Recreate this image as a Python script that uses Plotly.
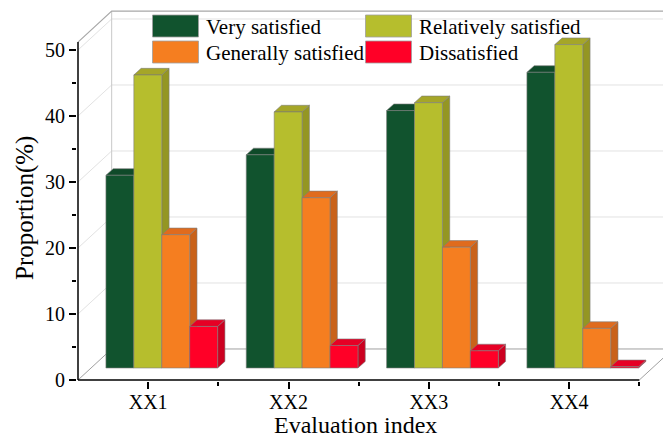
import plotly.graph_objects as go

# ---------------- data ----------------
categories = ["XX1", "XX2", "XX3", "XX4"]
series_names = ["Very satisfied", "Relatively satisfied", "Generally satisfied", "Dissatisfied"]
very_satisfied = [29.2, 32.3, 39.0, 44.8]
relatively_satisfied = [44.4, 38.8, 40.2, 49.0]
generally_satisfied = [20.2, 25.8, 18.3, 6.0]
dissatisfied = [6.3, 3.4, 2.6, 0.2]
y_tick_values = [0, 10, 20, 30, 40, 50]
y_minor_values = [5, 15, 25, 35, 45]

series_values = [very_satisfied, relatively_satisfied, generally_satisfied, dissatisfied]

# ---------------- styles ----------------
front_colors = ["#11532E", "#B6BE2D", "#F57E20", "#FF0027"]
top_colors = ["#0F4A29", "#A5A628", "#E06B1D", "#E60025"]
side_colors = ["#0D4024", "#949623", "#C9621A", "#CC0020"]
FONT = "Liberation Serif, Times New Roman, serif"

# pseudo-3D geometry (data units)
BAR_W = 0.199        # bar width (category units)
GROUP_SHIFT = 0.097  # bars sit a bit back in depth
BASE = 1.82          # floor height at the bars' depth
SDX, SDY = 0.052, 1.0   # bar depth projection
WDX, WDY = 0.24, 4.7    # wall depth projection
X0 = -0.5
AX_TOP = 51.2

L, R, T, B = 77, 0, 9, 57
W, H = 663, 438
PX_X = 140.33
PX_Y = 6.6
plot_w = W - L - R
plot_h = H - T - B
xmin = X0 - 1 / PX_X
xmax = xmin + plot_w / PX_X
ymin = -1 / PX_Y
ymax = ymin + plot_h / PX_Y

fig = go.Figure()


def add_line(xs, ys, color, width):
    fig.add_trace(go.Scatter(x=xs, y=ys, mode="lines",
                             line=dict(color=color, width=width),
                             hoverinfo="skip", showlegend=False))


# back wall grid lines
for v in y_tick_values[1:]:
    add_line([X0 + WDX, xmax + 1], [v + WDY, v + WDY], "#E2E2E2", 1)
# left wall diagonal grid lines
for v in y_tick_values[1:]:
    add_line([X0, X0 + WDX], [v, v + WDY], "#E2E2E2", 1)
# box edges
add_line([X0 + WDX, X0 + WDX], [WDY, AX_TOP + WDY], "#C8C8C8", 1)
add_line([X0, X0 + WDX, xmax + 1], [AX_TOP, AX_TOP + WDY, AX_TOP + WDY], "#A8A8A8", 1.2)
add_line([X0, X0 + WDX, xmax + 1], [0, WDY, WDY], "#A0A0A0", 1)
add_line([3.5, 3.5 + WDX], [0, WDY], "#A0A0A0", 1)

# bars
for j, vals in enumerate(series_values):
    sx, sy, tx, ty, fx, fy = [], [], [], [], [], []
    for i, v in enumerate(vals):
        xc = i + GROUP_SHIFT + (j - 1.5) * BAR_W
        xl, xr = xc - BAR_W / 2, xc + BAR_W / 2
        b, t = BASE, BASE + v
        sx += [xr, xr + SDX, xr + SDX, xr, xr, None]
        sy += [b, b + SDY, t + SDY, t, b, None]
        tx += [xl, xr, xr + SDX, xl + SDX, xl, None]
        ty += [t, t, t + SDY, t + SDY, t, None]
        fx += [xl, xr, xr, xl, xl, None]
        fy += [b, b, t, t, b, None]
    for xs, ys, col in ((sx, sy, side_colors[j]), (tx, ty, top_colors[j]), (fx, fy, front_colors[j])):
        fig.add_trace(go.Scatter(x=xs, y=ys, mode="lines", fill="toself",
                                 fillcolor=col, line=dict(color="#7C7C7C", width=0.6),
                                 hoverinfo="skip", showlegend=False, name=series_names[j]))

# axis lines
add_line([X0, X0], [0, AX_TOP], "black", 1.5)
add_line([X0, 3.5], [0, 0], "black", 1.5)


def px(xp):
    return (xp - L) / plot_w


def py(yp):
    return (H - B - yp) / plot_h


# manual legend (2 x 2)
legend_cols = [152.5, 365.5]
legend_rows = [15, 41]
sw_w, sw_h = 46, 22
for k, name in enumerate(series_names):
    col, row = k % 2, k // 2
    x0p = legend_cols[col]
    y0p = legend_rows[row]
    fig.add_shape(type="rect", xref="paper", yref="paper",
                  x0=px(x0p), x1=px(x0p + sw_w), y0=py(y0p + sw_h), y1=py(y0p),
                  fillcolor=front_colors[k], line=dict(color="#A0A0A0", width=0.8))
    fig.add_annotation(xref="paper", yref="paper", x=px(x0p + sw_w + 5.5), y=py(y0p + sw_h / 2 + 1),
                       text=name, showarrow=False, xanchor="left", yanchor="middle",
                       font=dict(family=FONT, size=21, color="black"))

# axis titles
fig.add_annotation(xref="paper", yref="paper", x=px(355), y=py(425), text="Evaluation index",
                   showarrow=False, xanchor="center", yanchor="middle",
                   font=dict(family=FONT, size=24, color="black"))
fig.add_annotation(xref="paper", yref="paper", x=px(25), y=py(208), text="Proportion(%)",
                   textangle=-90, showarrow=False, xanchor="center", yanchor="middle",
                   font=dict(family=FONT, size=25, color="black"))

fig.update_layout(
    width=W, height=H,
    margin=dict(l=L, r=R, t=T, b=B, autoexpand=False),
    paper_bgcolor="white", plot_bgcolor="white",
    showlegend=False,
    xaxis=dict(range=[xmin, xmax], showgrid=False, zeroline=False, showline=False,
               automargin=False,
               tickmode="array", tickvals=list(range(len(categories))), ticktext=categories,
               ticks="outside", ticklen=7, tickwidth=1.5, tickcolor="black",
               ticklabelstandoff=-4,
               tickfont=dict(family=FONT, size=20, color="black"),
               minor=dict(tickmode="array", tickvals=[0.5, 1.5, 2.5, 3.5], ticks="outside",
                          ticklen=4, tickwidth=1.5, tickcolor="black", showgrid=False),
               fixedrange=True),
    yaxis=dict(range=[ymin, ymax], showgrid=False, zeroline=False, showline=False,
               automargin=False,
               tickmode="array", tickvals=y_tick_values,
               ticks="outside", ticklen=7, tickwidth=1.5, tickcolor="black",
               tickfont=dict(family=FONT, size=20, color="black"),
               minor=dict(tickmode="array", tickvals=y_minor_values, ticks="outside",
                          ticklen=4, tickwidth=1.5, tickcolor="black", showgrid=False),
               fixedrange=True),
)

fig.write_html("out.html", config={"displayModeBar": False},
               post_script="document.body.style.margin='0px';")
